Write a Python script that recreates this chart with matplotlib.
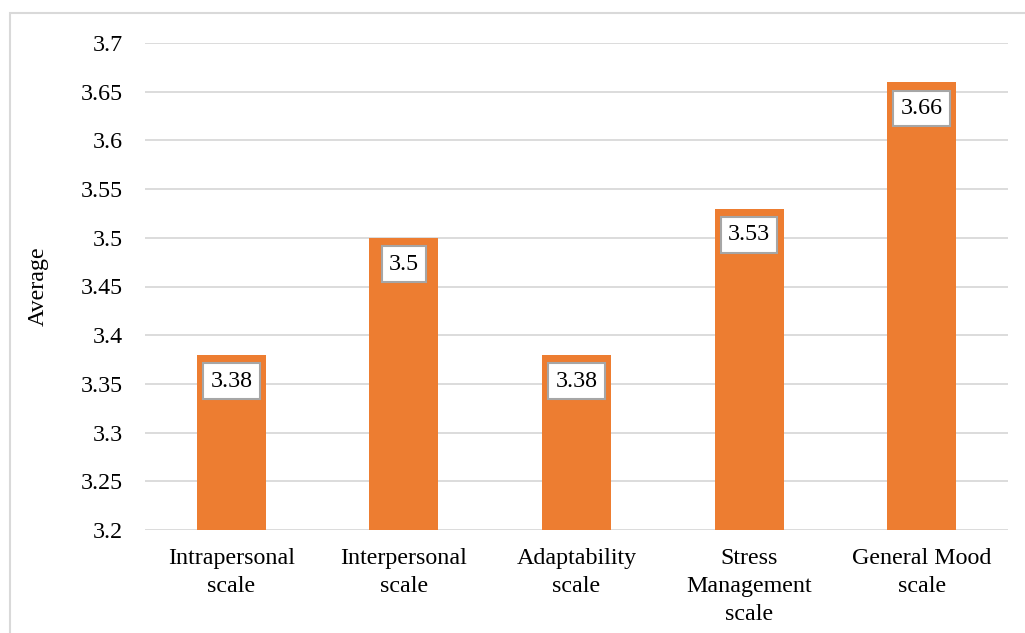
import matplotlib
matplotlib.use("Agg")
import matplotlib.pyplot as plt
from matplotlib.patches import Rectangle

categories = ["Intrapersonal\nscale", "Interpersonal\nscale", "Adaptability\nscale",
              "Stress\nManagement\nscale", "General Mood\nscale"]
values = [3.38, 3.5, 3.38, 3.53, 3.66]
yticks = [3.2, 3.25, 3.3, 3.35, 3.4, 3.45, 3.5, 3.55, 3.6, 3.65, 3.7]
ytick_labels = ["3.2", "3.25", "3.3", "3.35", "3.4", "3.45", "3.5", "3.55", "3.6", "3.65", "3.7"]

plt.rcParams['font.family'] = ['Liberation Serif', 'DejaVu Serif']
FS = 17.3

fig = plt.figure(figsize=(10.25, 6.33), dpi=100)
W, H = 1025, 633
ax = fig.add_axes([145 / W, 1 - 530 / H, (1008 - 145) / W, (530 - 43) / H])

x = list(range(len(categories)))
ax.bar(x, values, width=0.4, color="#ED7D31", zorder=3)
ax.set_xlim(-0.5, len(categories) - 0.5)
ax.set_ylim(3.2, 3.7)
ax.set_yticks(yticks)
ax.set_yticklabels(ytick_labels, fontsize=FS)
ax.set_xticks(x)
ax.set_xticklabels(categories, fontsize=FS, linespacing=1.45, va="top")
ax.tick_params(axis="both", length=0, colors="#000000")
ax.tick_params(axis="y", pad=16)
ax.tick_params(axis="x", pad=13)
ax.grid(axis="y", color="#d9d9d9", linewidth=1.3, zorder=0)
for s in ax.spines.values():
    s.set_visible(False)
ax.set_ylabel("Average", fontsize=FS, labelpad=23)

for xi, v in zip(x, values):
    ax.annotate(f"{v:g}", xy=(xi, v), xytext=(0, -19), textcoords="offset points",
                ha="center", va="center", fontsize=FS, zorder=5,
                bbox=dict(boxstyle="square,pad=0.3", fc="white", ec="#a6a6a6", lw=1.5))

fig.add_artist(Rectangle((10 / W, -0.1), 1.2, 1 - 13 / H + 0.1, transform=fig.transFigure,
                         fill=False, ec="#d9d9d9", lw=1.5))

fig.savefig("out.png", dpi=100)
